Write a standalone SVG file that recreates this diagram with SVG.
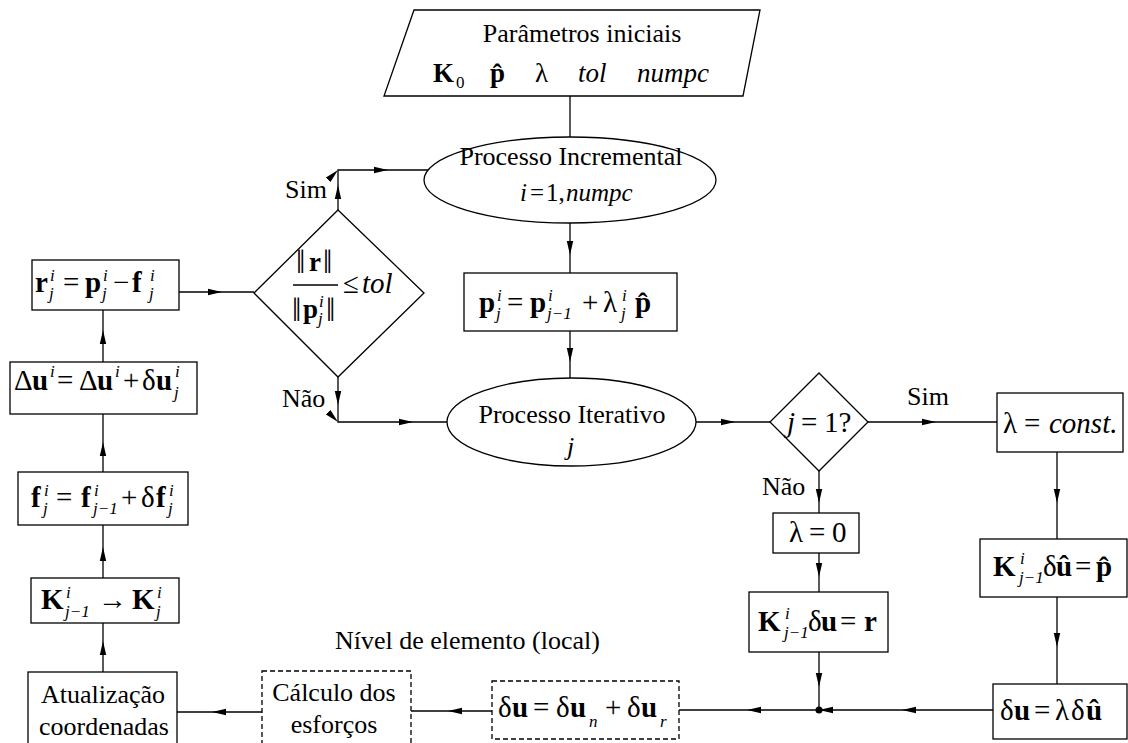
<svg xmlns="http://www.w3.org/2000/svg" width="1128" height="743" viewBox="0 0 1128 743">
<style>
text{font-family:"Liberation Serif","Times New Roman",serif;fill:#000}
.t{font-size:26px}
.m{font-size:29px}
.b{font-weight:bold}
.i{font-style:italic}
.s{font-size:17px;font-style:italic;font-weight:normal}
.sr{font-size:17px;font-style:normal;font-weight:normal}
.nb{font-size:33px}
.shape{fill:#fff;stroke:#000;stroke-width:1.3}
.dash{fill:#fff;stroke:#000;stroke-width:1.3;stroke-dasharray:5 3}
.con{fill:none;stroke:#000;stroke-width:1.3;marker-mid:url(#arr)}
</style>
<defs>
<marker id="arr" viewBox="0 0 14 8" refX="14" refY="4" markerWidth="14" markerHeight="8" markerUnits="userSpaceOnUse" orient="auto">
<path d="M0,0.8 L14,4 L0,7.2 Z" fill="#000"/>
</marker>
</defs>
<rect width="1128" height="743" fill="#fff"/>

<g id="connectors">
<path class="con" d="M570,96 L570,137"/>
<path class="con" d="M570,222 L570,255 L570,273"/>
<path class="con" d="M570,331 L570,362 L570,378"/>
<path class="con" d="M696,422 L735,422 L770,422"/>
<path class="con" d="M868,422 L936,422 L997,422"/>
<path class="con" d="M1057,452 L1057,503 L1057,539"/>
<path class="con" d="M1057,597 L1057,647 L1057,684"/>
<path class="con" d="M993,710 L902,710 L819,710 L747,710 L679,710"/>
<path class="con" d="M819,652 L819,687 L819,710"/>
<path class="con" d="M819,471 L819,503 L819,513"/>
<path class="con" d="M819,553 L819,577 L819,592"/>
<path class="con" d="M492,711 L448,711 L411,711"/>
<path class="con" d="M262,712 L212,712 L177,712"/>
<path class="con" d="M103,672 L103,641 L103,623"/>
<path class="con" d="M103,578 L103,547 L103,525"/>
<path class="con" d="M103,472 L103,442 L103,414"/>
<path class="con" d="M103,362 L103,330 L103,310"/>
<path class="con" d="M179,292 L222,292 L254,292"/>
<path class="con" d="M338,210 L338,185 L338,170 L388,170 L428,170"/>
<path class="con" d="M338,377 L338,405 L338,422 L413,422 L447,422"/>
<circle cx="819" cy="710" r="3.5" fill="#000"/>
<text class="t" x="285" y="198">Sim</text>
<text class="t" x="282" y="407">Não</text>
<text class="t" x="907" y="405">Sim</text>
<text class="t" x="762" y="495">Não</text>
<text class="t" x="335" y="649">Nível de elemento (local)</text>
</g>

<g id="params">
<polygon class="shape" points="414,10 760,10 743,96 384,96"/>
<text class="t" x="582" y="42" text-anchor="middle">Parâmetros iniciais</text>
<text style="font-size:27px"><tspan class="b" x="433" y="82">K</tspan><tspan class="sr" x="456" y="88">0</tspan><tspan class="b" x="490" y="82">p̂</tspan><tspan x="535" y="82">λ</tspan><tspan class="i" x="578" y="82">tol</tspan><tspan class="i" x="637" y="82">numpc</tspan></text>
</g>

<g id="incremental">
<ellipse class="shape" cx="570" cy="180" rx="146" ry="43"/>
<text class="t" x="571" y="165" text-anchor="middle">Processo Incremental</text>
<text style="font-size:25px"><tspan class="i" x="520" y="201">i</tspan><tspan x="530" y="201">=</tspan><tspan x="546" y="201">1,</tspan><tspan class="i" x="566" y="201">numpc</tspan></text>
</g>

<g id="load">
<rect class="shape" x="464" y="273" width="213" height="58"/>
<text class="m"><tspan class="b" x="479" y="312">p</tspan><tspan class="s" x="497" y="301">i</tspan><tspan class="s" x="496" y="319">j</tspan><tspan x="507" y="312">=</tspan><tspan class="b" x="530" y="312">p</tspan><tspan class="s" x="548" y="301">i</tspan><tspan class="s" x="547" y="319">j−1</tspan><tspan x="582" y="312">+</tspan><tspan x="603" y="312">λ</tspan><tspan class="s" x="622" y="301">i</tspan><tspan class="s" x="621" y="319">j</tspan><tspan class="b" x="635" y="312">p̂</tspan></text>
</g>

<g id="iterative">
<ellipse class="shape" cx="571.5" cy="422" rx="124.5" ry="44"/>
<text class="t" x="572" y="423" text-anchor="middle">Processo Iterativo</text>
<text class="t i" x="567" y="455">j</text>
</g>

<g id="check">
<polygon class="shape" points="338,210 424,293 338,377 254,293"/>
<text style="font-size:27px"><tspan class="nb" x="296" y="273">‖</tspan><tspan class="b" x="309" y="271">r</tspan><tspan class="nb" x="323" y="273">‖</tspan></text>
<line x1="293" y1="285" x2="338" y2="285" stroke="#000" stroke-width="1.3"/>
<text style="font-size:27px"><tspan class="nb" x="292" y="321">‖</tspan><tspan class="b" x="303" y="318">p</tspan><tspan class="s" x="319" y="307">i</tspan><tspan class="s" x="318" y="324">j</tspan><tspan class="nb" x="326" y="321">‖</tspan></text>
<text class="m"><tspan x="343" y="293">≤</tspan><tspan class="i" x="362" y="293">tol</tspan></text>
</g>

<g id="residual">
<rect class="shape" x="32" y="260" width="147" height="50"/>
<text class="m"><tspan class="b" x="35" y="292">r</tspan><tspan class="s" x="50" y="281">i</tspan><tspan class="s" x="49" y="299">j</tspan><tspan x="63" y="292">=</tspan><tspan class="b" x="85" y="292">p</tspan><tspan class="s" x="103" y="281">i</tspan><tspan class="s" x="102" y="299">j</tspan><tspan x="113" y="292">−</tspan><tspan class="b" x="132" y="292">f</tspan><tspan class="s" x="150" y="281">i</tspan><tspan class="s" x="149" y="299">j</tspan></text>
</g>

<g id="disp">
<rect class="shape" x="10" y="362" width="187" height="52"/>
<text class="m"><tspan x="14" y="390">Δ</tspan><tspan class="b" x="32" y="390">u</tspan><tspan class="s" x="50" y="377">i</tspan><tspan x="57" y="390">=</tspan><tspan x="79" y="390">Δ</tspan><tspan class="b" x="97" y="390">u</tspan><tspan class="s" x="115" y="377">i</tspan><tspan x="123" y="390">+</tspan><tspan x="142" y="390">δ</tspan><tspan class="b" x="156" y="390">u</tspan><tspan class="s" x="175" y="377">i</tspan><tspan class="s" x="174" y="398">j</tspan></text>
</g>

<g id="force">
<rect class="shape" x="18" y="472" width="170" height="53"/>
<text class="m"><tspan class="b" x="31" y="507">f</tspan><tspan class="s" x="44" y="496">i</tspan><tspan class="s" x="43" y="514">j</tspan><tspan x="56" y="507">=</tspan><tspan class="b" x="81" y="507">f</tspan><tspan class="s" x="94" y="496">i</tspan><tspan class="s" x="93" y="514">j−1</tspan><tspan x="121" y="507">+</tspan><tspan x="141" y="507">δ</tspan><tspan class="b" x="156" y="507">f</tspan><tspan class="s" x="169" y="496">i</tspan><tspan class="s" x="168" y="514">j</tspan></text>
</g>

<g id="stiff">
<rect class="shape" x="31" y="578" width="148" height="45"/>
<text class="m"><tspan class="b" x="41" y="609">K</tspan><tspan class="s" x="66" y="598">i</tspan><tspan class="s" x="65" y="617">j−1</tspan><tspan x="98" y="609">→</tspan><tspan class="b" x="132" y="609">K</tspan><tspan class="s" x="157" y="598">i</tspan><tspan class="s" x="156" y="617">j</tspan></text>
</g>

<g id="update">
<rect class="shape" x="28" y="672" width="149" height="80"/>
<text class="t" x="103" y="703" text-anchor="middle">Atualização</text>
<text class="t" x="104" y="735" text-anchor="middle">coordenadas</text>
</g>

<g id="efforts">
<rect class="dash" x="262" y="671" width="149" height="80"/>
<text class="t" x="334" y="701" text-anchor="middle">Cálculo dos</text>
<text class="t" x="334" y="733" text-anchor="middle">esforços</text>
</g>

<g id="dusum">
<rect class="dash" x="492" y="681" width="187" height="58"/>
<text class="m"><tspan x="498" y="717">δ</tspan><tspan class="b" x="512" y="717">u</tspan><tspan x="533" y="717">=</tspan><tspan x="556" y="717">δ</tspan><tspan class="b" x="570" y="717">u</tspan><tspan class="s" x="589" y="727">n</tspan><tspan x="605" y="717">+</tspan><tspan x="627" y="717">δ</tspan><tspan class="b" x="641" y="717">u</tspan><tspan class="s" x="660" y="727">r</tspan></text>
</g>

<g id="jtest">
<polygon class="shape" points="819,373 868,422 819,471 770,422"/>
<text class="m"><tspan class="i" x="787" y="432">j</tspan><tspan x="801" y="432">=</tspan><tspan x="824" y="432">1?</tspan></text>
</g>

<g id="lconst">
<rect class="shape" x="997" y="393" width="126" height="59"/>
<text class="m"><tspan x="1003" y="433">λ</tspan><tspan x="1024" y="433">=</tspan><tspan class="i" x="1049" y="433">const.</tspan></text>
</g>

<g id="lzero">
<rect class="shape" x="773" y="513" width="86" height="40"/>
<text class="m"><tspan x="789" y="542">λ</tspan><tspan x="809" y="542">=</tspan><tspan x="832" y="542">0</tspan></text>
</g>

<g id="solve_r">
<rect class="shape" x="749" y="592" width="139" height="60"/>
<text class="m"><tspan class="b" x="758" y="631">K</tspan><tspan class="s" x="785" y="619">i</tspan><tspan class="s" x="784" y="638">j−1</tspan><tspan x="808" y="631">δ</tspan><tspan class="b" x="821" y="631">u</tspan><tspan x="840" y="631">=</tspan><tspan class="b" x="864" y="631">r</tspan></text>
</g>

<g id="solve_p">
<rect class="shape" x="980" y="539" width="147" height="58"/>
<text class="m"><tspan class="b" x="993" y="576">K</tspan><tspan class="s" x="1020" y="564">i</tspan><tspan class="s" x="1019" y="583">j−1</tspan><tspan x="1043" y="576">δ</tspan><tspan class="b" x="1056" y="576">û</tspan><tspan x="1075" y="576">=</tspan><tspan class="b" x="1096" y="576">p̂</tspan></text>
</g>

<g id="du_lambda">
<rect class="shape" x="993" y="684" width="134" height="55"/>
<text class="m"><tspan x="1000" y="720">δ</tspan><tspan class="b" x="1014" y="720">u</tspan><tspan x="1034" y="720">=</tspan><tspan x="1055" y="720">λ</tspan><tspan x="1071" y="720">δ</tspan><tspan class="b" x="1086" y="720">û</tspan></text>
</g>
</svg>
